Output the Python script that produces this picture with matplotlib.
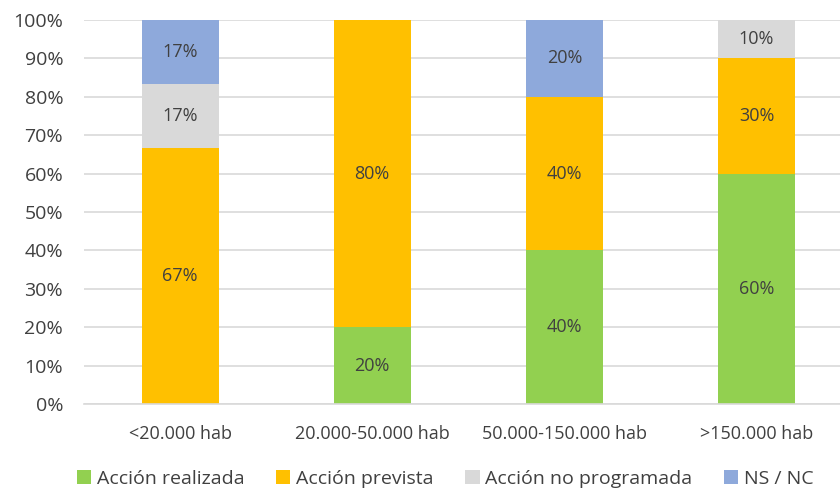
import matplotlib.pyplot as plt
import numpy as np
from matplotlib.ticker import PercentFormatter

plt.rcParams['font.family'] = ['Open Sans', 'DejaVu Sans']

# Datos
categorias = ['<20.000 hab', '20.000-50.000 hab', '50.000-150.000 hab', '>150.000 hab']
series = ['Acción realizada', 'Acción prevista', 'Acción no programada', 'NS / NC']
realizada = [0, 20, 40, 60]
prevista = [66.67, 80, 40, 30]
no_programada = [16.67, 0, 0, 10]
ns_nc = [16.67, 0, 20, 0]
colores = ['#92D050', '#FFC000', '#D9D9D9', '#8EA9DB']

valores = [realizada, prevista, no_programada, ns_nc]
txt = '#404040'

fig = plt.figure(figsize=(8.4, 4.93), dpi=100)
ax = fig.add_axes([0.1, 0.18, 0.915, 0.78])

x = np.arange(len(categorias))
base = np.zeros(len(categorias))
for nombre, vals, col in zip(series, valores, colores):
    vals = np.array(vals)
    bars = ax.bar(x, vals, 0.4, bottom=base, color=col, label=nombre, zorder=2)
    for b, v, b0 in zip(bars, vals, base):
        if v > 0:
            ax.text(b.get_x() + b.get_width() / 2, b0 + v / 2, f'{v:.0f}%',
                    ha='center', va='center', fontsize=13, color=txt, zorder=3)
    base = base + vals

ax.set_xlim(-0.5, 3.5)
ax.set_ylim(0, 100)
ax.set_yticks(np.arange(0, 101, 10))
ax.yaxis.set_major_formatter(PercentFormatter(decimals=0))
ax.set_xticks(x)
ax.set_xticklabels(categorias)
ax.tick_params(axis='y', length=0, labelsize=14, colors=txt, pad=15)
ax.tick_params(axis='x', length=0, labelsize=13, colors=txt, pad=15)
ax.grid(axis='y', color='#D9D9D9', linewidth=1.2, zorder=0)
for s in ['top', 'right', 'left']:
    ax.spines[s].set_visible(False)
ax.spines['bottom'].set_color('#D9D9D9')
ax.spines['bottom'].set_linewidth(1.2)

fig.legend(loc='lower center', bbox_to_anchor=(0.53, -0.025), ncol=4, frameon=False,
           fontsize=14, handlelength=0.75, handleheight=0.75, handletextpad=0.3,
           columnspacing=1.6, labelcolor=txt)

fig.savefig('out.png', dpi=100)
